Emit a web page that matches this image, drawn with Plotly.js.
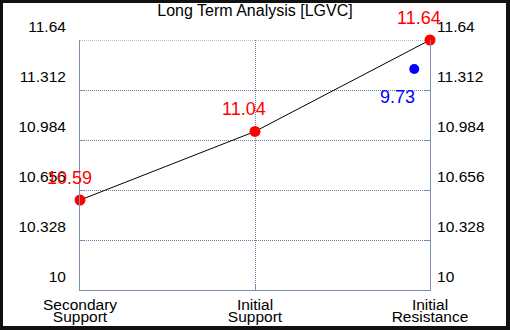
<!DOCTYPE html>
<html>
<head>
<meta charset="utf-8">
<script src="https://cdn.plot.ly/plotly-3.0.1.min.js"></script>
<style>
  html, body { margin: 0; padding: 0; background: #fff; }
  #wrap { position: relative; width: 510px; height: 330px; }
  #chart { width: 510px; height: 330px; }
  #frame { position: absolute; left: 0; top: 0; width: 510px; height: 330px; box-sizing: border-box;
           border-style: solid; border-color: #111; border-width: 3px 4px 4px 3px; pointer-events: none; }
</style>
</head>
<body>
<div id="wrap"><div id="chart"></div><div id="frame"></div></div>
<script>
const title = "Long Term Analysis [LGVC]";
const categories = ["Secondary Support", "Initial Support", "Initial Resistance"];
const levels = [10.59, 11.04, 11.64];
const levelLabels = ["10.59", "11.04", "11.64"];
const tickValues = [10, 10.328, 10.656, 10.984, 11.312, 11.64];
const tickLabels = ["10", "10.328", "10.656", "10.984", "11.312", "11.64"];
const currentX = [1.91];
const currentY = [11.45];
const currentLabel = ["9.73"];

const catIdx = categories.map((c, i) => i);
const firstLine = categories.map(c => c.split(" ")[0]);
const secondLine = categories.map(c => c.split(" ").slice(1).join(" "));

const axisColor = "#7b8fae";
const gridColor = "#6a7fa1";
const gridDash = "1px,1px";
const font = "Liberation Sans, Arial, sans-serif";

const traces = [
  {
    x: catIdx, y: levels, type: "scatter", mode: "lines+markers",
    line: { color: "#000", width: 1 },
    marker: { color: "#ff0000", size: 11 },
    cliponaxis: false, hoverinfo: "skip", showlegend: false
  },
  {
    x: currentX, y: currentY, xaxis: "x2", yaxis: "y2", type: "scatter", mode: "markers",
    marker: { color: "#0000ff", size: 10 },
    cliponaxis: false, hoverinfo: "skip", showlegend: false
  }
];

const annotations = levels.map((v, i) => ({
  x: catIdx[i], y: v, xref: "x", yref: "y", text: levelLabels[i], showarrow: false,
  xshift: -11, yshift: 22, font: { family: font, size: 18, color: "#ff0000" }
})).concat(currentY.map((v, i) => ({
  x: currentX[i], y: v, xref: "x2", yref: "y2", text: currentLabel[i], showarrow: false,
  xshift: -17, yshift: -28, font: { family: font, size: 18, color: "#0000ff" }
})));

// top gridline (Plotly drops gridlines lying on the plot edge)
const shapes = [{
  type: "line", xref: "paper", yref: "y", x0: 0, x1: 1,
  y0: tickValues[tickValues.length - 1], y1: tickValues[tickValues.length - 1],
  line: { color: gridColor, width: 1, dash: gridDash }, layer: "below"
}];

const yCommon = {
  range: [10, 11.64], tickmode: "array", tickvals: tickValues, ticktext: tickLabels,
  ticks: "inside", ticklen: 5, tickcolor: axisColor, showline: true, linecolor: axisColor,
  linewidth: 1, zeroline: false, ticklabelshift: -13,
  tickfont: { family: font, size: 15.5, color: "#000" }, fixedrange: true
};

const layout = {
  width: 510, height: 330,
  margin: { l: 80, r: 80, t: 40, b: 40 },
  paper_bgcolor: "#fff", plot_bgcolor: "#fff",
  title: { text: title, font: { family: font, size: 16, color: "#000" },
           x: 0.5, xanchor: "center", y: 1 - 10.5 / 330, yanchor: "middle", yref: "container" },
  xaxis: {
    range: [0, 2], tickmode: "array", tickvals: catIdx, ticktext: firstLine,
    ticks: "inside", ticklen: 5, tickcolor: axisColor, showline: true, linecolor: axisColor,
    showgrid: true, gridcolor: gridColor, griddash: gridDash, zeroline: false,
    tickfont: { family: font, size: 15.5, color: "#000" }, ticklabelstandoff: 0, fixedrange: true
  },
  xaxis2: {
    overlaying: "x", side: "bottom", range: [0, 2], tickmode: "array", tickvals: catIdx,
    ticktext: secondLine, ticks: "", showline: false, showgrid: false, zeroline: false,
    tickfont: { family: font, size: 15.5, color: "#000" }, ticklabelstandoff: 15, fixedrange: true
  },
  yaxis: Object.assign({}, yCommon, {
    side: "left", showgrid: true, gridcolor: gridColor, griddash: gridDash, ticklabelstandoff: 10
  }),
  yaxis2: Object.assign({}, yCommon, {
    side: "right", overlaying: "y", showgrid: false, ticklabelstandoff: 3
  }),
  shapes: shapes,
  annotations: annotations,
  showlegend: false
};

Plotly.newPlot("chart", traces, layout, { displayModeBar: false, staticPlot: true });
</script>
</body>
</html>
